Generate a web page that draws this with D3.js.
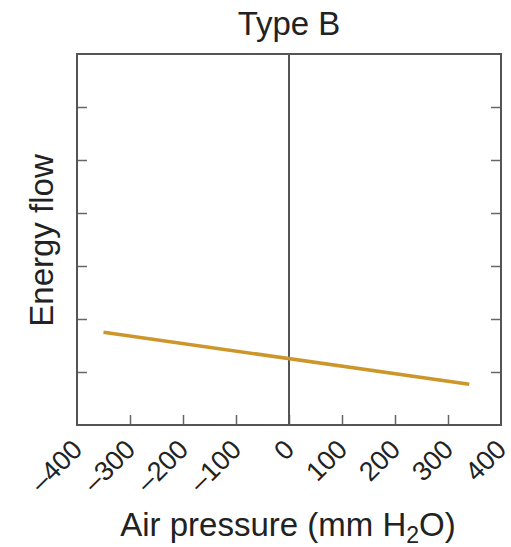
<!DOCTYPE html>
<html>
<head>
<meta charset="utf-8">
<script src="https://cdn.jsdelivr.net/npm/d3@7"></script>
<style>
  body { margin: 0; background: #fff; }
  text { font-family: "Liberation Sans", Arial, sans-serif; fill: #222; }
</style>
</head>
<body>
<script>
  // values
  var xTickValues = [-400, -300, -200, -100, 0, 100, 200, 300, 400];
  var xTickLabels = ["\u2013400", "\u2013300", "\u2013200", "\u2013100", "0", "100", "200", "300", "400"];
  var yTickValues = [1, 2, 3, 4, 5, 6];
  var pressure = [-350, 340];
  var energy = [1.75, 0.77];

  var svgWidth = 511, svgHeight = 547;

  var svg = d3.select('body').append('svg')
    .attr('width', svgWidth)
    .attr('height', svgHeight);

  var x = d3.scaleLinear().domain([-400, 400]).range([77, 501]);
  var y = d3.scaleLinear().domain([0, 7]).range([425, 54]);

  var axisColor = '#555';

  // inner ticks, no labels
  var bottom = svg.append('g')
    .attr('transform', 'translate(0,' + y(0) + ')')
    .call(d3.axisBottom(x).tickValues(xTickValues.slice(1, -1)).tickSize(-10).tickFormat(''));
  var left = svg.append('g')
    .attr('transform', 'translate(' + x(-400) + ',0)')
    .call(d3.axisLeft(y).tickValues(yTickValues).tickSize(-10).tickFormat(''));
  var right = svg.append('g')
    .attr('transform', 'translate(' + x(400) + ',0)')
    .call(d3.axisRight(y).tickValues(yTickValues).tickSize(-10).tickFormat(''));

  [bottom, left, right].forEach(function(g) {
    g.select('.domain').remove();
    g.selectAll('line').attr('stroke', '#666').attr('stroke-width', 1.5);
  });

  // frame
  svg.append('rect')
    .attr('x', x(-400))
    .attr('y', y(7))
    .attr('width', x(400) - x(-400))
    .attr('height', y(0) - y(7))
    .attr('fill', 'none')
    .attr('stroke', axisColor)
    .attr('stroke-width', 2);

  // zero line
  svg.append('line')
    .attr('x1', x(0)).attr('x2', x(0))
    .attr('y1', y(7)).attr('y2', y(0))
    .attr('stroke', axisColor)
    .attr('stroke-width', 2);

  // the data line
  var pts = pressure.map(function(p, i) { return [p, energy[i]]; });
  svg.append('path')
    .datum(pts)
    .attr('fill', 'none')
    .attr('stroke', '#cc962a')
    .attr('stroke-width', 3.5)
    .attr('d', d3.line()
      .x(function(d) { return x(d[0]); })
      .y(function(d) { return y(d[1]); }));

  // rotated tick labels
  svg.selectAll('.xlabel')
    .data(xTickValues)
    .enter()
    .append('text')
      .attr('class', 'xlabel')
      .attr('text-anchor', 'end')
      .attr('font-size', 27)
      .attr('transform', function(d) {
        return 'translate(' + (x(d) + 7) + ',' + (y(0) + 26) + ') rotate(-45)';
      })
      .text(function(d, i) { return xTickLabels[i]; });

  // title
  svg.append('text')
    .attr('x', x(0))
    .attr('y', 35)
    .attr('text-anchor', 'middle')
    .attr('font-size', 33)
    .text('Type B');

  // y label
  svg.append('text')
    .attr('transform', 'translate(53,' + (y(3.5) + 1) + ') rotate(-90)')
    .attr('text-anchor', 'middle')
    .attr('font-size', 33)
    .text('Energy flow');

  // x label
  var xl = svg.append('text')
    .attr('x', 288)
    .attr('y', 536)
    .attr('text-anchor', 'middle')
    .attr('font-size', 33);
  xl.append('tspan').text('Air pressure (mm H');
  xl.append('tspan').attr('font-size', 23).attr('dy', 7).text('2');
  xl.append('tspan').attr('dy', -7).text('O)');
</script>
</body>
</html>
